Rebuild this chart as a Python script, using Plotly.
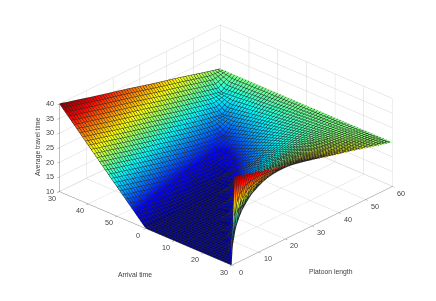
import plotly.graph_objects as go

platoon_length = [0, 1, 2, 3, 4, 6, 8, 11, 15, 20, 25, 30, 35, 40, 45, 50, 55, 60]
arrival_pos = [-30, -25, -20, -15, -10, -5, 0, 5, 10, 15, 18, 20, 22, 24, 25, 26, 27, 28, 29, 30]
travel_time = [
    [40,39.8,39.5,39.2,39,38.5,38,37.2,36.2,35,33.8,32.5,31.2,30,28.8,27.5,26.2,25],
    [35,34.8,34.5,34.2,34,33.5,33,32.2,31.2,30,28.8,27.5,26.2,25,23.8,22.5,21.4,25],
    [30,29.8,29.5,29.2,29,28.5,28,27.2,26.2,25,23.8,22.5,21.2,20,18.9,18,21.8,25],
    [25,24.8,24.5,24.2,24,23.5,23,22.2,21.2,20,18.8,17.5,16.4,15.6,15,19,22.3,25],
    [20,19.8,19.5,19.2,19,18.5,18,17.2,16.2,15,14,13.3,12.9,12.5,16.7,20,22.7,25],
    [15,14.8,14.5,14.2,14,13.5,13,12.3,11.7,11.2,11,10.8,10.7,15,18.3,21,23.2,25],
    [10,10,10,10,10,10,10,10,10,10,10,10,14.3,17.5,20,22,23.6,25],
    [10,10,10,10,10,10,10,10,10,10,10,14.8,17.9,20,21.7,23,24.1,25],
    [10,10,10,10,10,10,10,10,10,10,15.8,19.2,21.2,22.5,23.3,24,24.5,25],
    [10,10,10,10,10,10,10,10,10,17.2,21,23.1,24.3,24.8,25,25,25,25],
    [10,10,10,10,10,10,10,10,15.8,21.2,23.9,25.3,25.9,26.1,26,25.6,25.3,25],
    [10,10,10,10,10,10,10,12.7,19.6,23.8,25.8,26.7,27,26.9,26.5,26,25.5,25],
    [10,10,10,10,10,10,10,18,23.2,26.2,27.5,28,27.9,27.6,27.1,26.4,25.6,25],
    [10,10,10,10,10,10,17.4,23.1,26.6,28.6,29.2,29.2,28.9,28.3,27.6,26.7,25.8,25],
    [10,10,10,10,10,15,21,25.5,28.3,29.7,30,29.8,29.3,28.6,27.8,26.9,25.9,25],
    [10,10,10,10,10,19.8,24.5,28,30,30.8,30.8,30.4,29.7,28.9,28,27,26,25],
    [10,10,10,10,17.4,24.6,28,30.4,31.6,31.9,31.6,30.9,30.1,29.2,28.2,27.2,26.1,25],
    [10,10,10,19.9,24.8,29.3,31.4,32.7,33.2,33,32.3,31.5,30.5,29.5,28.4,27.3,26.1,25],
    [10,10,24.9,29.7,31.9,34,34.7,35,34.7,34,33,32,30.9,29.7,28.6,27.4,26.2,25],
    [10,39.8,39.5,39.2,39,38.5,38,37.2,36.2,35,33.8,32.5,31.2,30,28.8,27.5,26.2,25],
]
arrival_ticks = [-30, -20, -10, 0, 10, 20, 30]
arrival_labels = ["30", "40", "50", "0", "10", "20", "30"]
length_ticks = [0, 10, 20, 30, 40, 50, 60]
time_ticks = [10, 15, 20, 25, 30, 35, 40]

jet = [[0, "#00008f"], [0.125, "#0000ff"], [0.375, "#00ffff"], [0.625, "#ffff00"], [0.875, "#ff0000"], [1, "#800000"]]
label_font = dict(family="Liberation Sans", size=7.2, color="#404040")
title_font = dict(family="Liberation Sans", size=6.8, color="#404040")

fig = go.Figure(go.Surface(
    x=platoon_length, y=arrival_pos, z=travel_time,
    colorscale=jet, cmin=10, cmax=40, showscale=False,
    lighting=dict(ambient=1, diffuse=0, specular=0, roughness=1, fresnel=0),
    hoverinfo="skip",
    contours=dict(
        x=dict(show=True, start=0, end=60, size=1, color="rgba(0,0,0,0.85)", width=1, highlight=False),
        y=dict(show=True, start=-30, end=30, size=1, color="rgba(0,0,0,0.85)", width=1, highlight=False),
        z=dict(highlight=False),
    ),
))

axis = dict(showbackground=False, gridcolor="#d4d4d4", gridwidth=1, zeroline=False,
            showline=True, linecolor="#808080", linewidth=1, ticks="outside", ticklen=3,
            showticklabels=False, tickcolor="#808080", title=dict(text=""), showspikes=False)


def tick_note(x, y, z, text, dx, dy):
    return dict(x=x, y=y, z=z, text=text, showarrow=False, xshift=dx, yshift=dy,
                xanchor="center", yanchor="middle", font=label_font)


tick_notes = (
    [tick_note(v, 30, 10, str(v), 9, -7) for v in length_ticks]
    + [tick_note(0, v, 10, t, -8, -7) for v, t in zip(arrival_ticks, arrival_labels)]
    + [tick_note(0, -30, v, str(v), -10, 0) for v in time_ticks]
)

fig.update_layout(
    width=436, height=301, margin=dict(l=0, r=0, t=0, b=0), paper_bgcolor="white",
    scene=dict(
        domain=dict(x=[0, 1], y=[0, 1]),
        xaxis=dict(axis, range=[0, 60], tickvals=length_ticks),
        yaxis=dict(axis, range=[30, -30], tickvals=arrival_ticks),
        zaxis=dict(axis, range=[9.9, 40], tickvals=time_ticks),
        aspectmode="manual", aspectratio=dict(x=1.565, y=1.565, z=0.657),
        camera=dict(projection=dict(type="orthographic"),
                    eye=dict(x=-0.813, y=-0.759, z=0.473), center=dict(x=0, y=0, z=-0.10), up=dict(x=0, y=0, z=1)),
        annotations=tick_notes,
    ),
    annotations=[
        dict(text="Arrival time", x=127/436, y=1-266/301, xref="paper", yref="paper", showarrow=False,
             xanchor="center", yanchor="middle", font=title_font),
        dict(text="Platoon length", x=323/436, y=1-264/301, xref="paper", yref="paper", showarrow=False,
             xanchor="center", yanchor="middle", font=title_font),
        dict(text="Average travel time", x=30/436, y=1-139/301, xref="paper", yref="paper", showarrow=False, textangle=-90,
             xanchor="center", yanchor="middle", font=title_font),
    ],
)
fig.write_html("out.html")
